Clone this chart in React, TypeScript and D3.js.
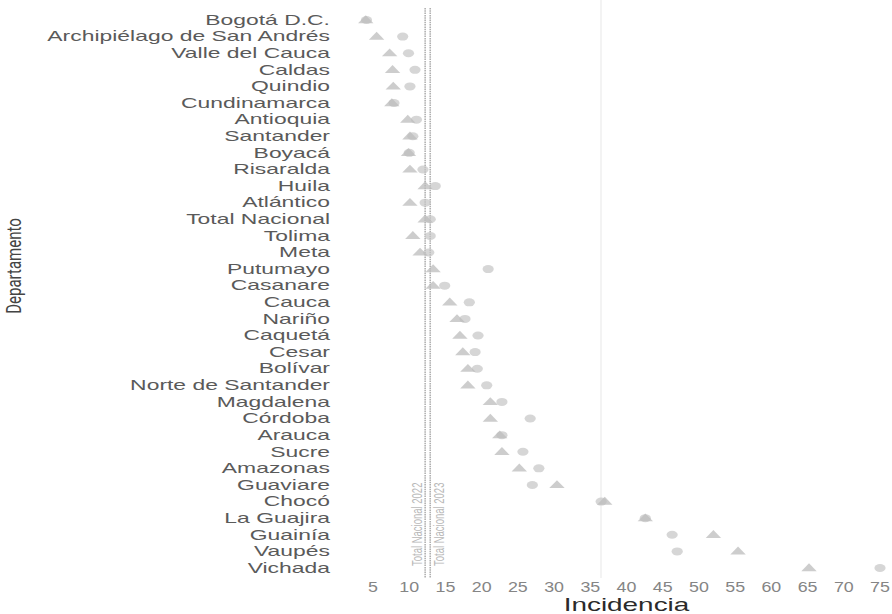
import React from "react";
import * as d3 from "d3";

const departamentos = [
  "Bogotá D.C.", "Archipiélago de San Andrés", "Valle del Cauca", "Caldas", "Quindio",
  "Cundinamarca", "Antioquia", "Santander", "Boyacá", "Risaralda", "Huila", "Atlántico",
  "Total Nacional", "Tolima", "Meta", "Putumayo", "Casanare", "Cauca", "Nariño", "Caquetá",
  "Cesar", "Bolívar", "Norte de Santander", "Magdalena", "Córdoba", "Arauca", "Sucre",
  "Amazonas", "Guaviare", "Chocó", "La Guajira", "Guainía", "Vaupés", "Vichada",
];
const incidencia2022 = [
  4.0, 5.5, 7.3, 7.7, 7.8, 7.6, 9.8, 10.1, 9.9, 10.1, 12.2, 10.1, 12.2, 10.5, 11.5, 13.3, 13.3,
  15.6, 16.6, 17.0, 17.4, 18.1, 18.1, 21.2, 21.2, 22.5, 22.8, 25.2, 30.4, 37.0, 42.6, 52.0, 55.4, 65.2,
];
const incidencia2023 = [
  4.1, 9.1, 9.9, 10.8, 10.1, 7.9, 11.0, 10.5, 10.0, 11.9, 13.6, 12.2, 12.9, 12.9, 12.7, 20.9, 14.9,
  18.3, 17.7, 19.5, 19.1, 19.4, 20.7, 22.8, 26.7, 22.8, 25.7, 27.9, 27.0, 36.5, 42.6, 46.3, 47.0, 75.0,
];
const xTicks = [5, 10, 15, 20, 25, 30, 35, 40, 45, 50, 55, 60, 65, 70, 75];
const totalLabels = ["Total Nacional 2022", "Total Nacional 2023"];

const W = 892;
const H = 614;
const SX = 1.66; // horizontal stretch of the reference

export default function App() {
  const x = d3.scaleLinear().domain([5, 75]).range([373, 880]);
  const y = d3.scalePoint<string>().domain(departamentos).range([20, 568]);
  const tri = d3.symbol(d3.symbolTriangle, 40)() as string;
  const tIdx = departamentos.indexOf("Total Nacional");
  const tot = [incidencia2022[tIdx], incidencia2023[tIdx]];
  const font = "'Liberation Sans', Arial, sans-serif";

  return (
    <svg
      width={W}
      height={H}
      style={{ position: "absolute", left: 0, top: 0, background: "#fff" }}
      fontFamily={font}
    >
      {/* faint fold line */}
      <line x1={601} x2={601} y1={0} y2={578} stroke="#f3f3f3" strokeWidth={2} />

      {/* total nacional reference lines */}
      {tot.map((v, i) => (
        <line
          key={"tl" + i}
          x1={x(v)}
          x2={x(v)}
          y1={8}
          y2={578}
          stroke="#b0b0b0"
          strokeWidth={1.6}
          strokeDasharray="1.5,0.8"
        />
      ))}
      {tot.map((v, i) => (
        <text
          key={"tt" + i}
          transform={`translate(${x(v) + (i === 0 ? -8 : 9)},566) rotate(-90) scale(1,1.5)`}
          fontSize={9.5}
          fill="#b8b8b8"
          dominantBaseline="central"
        >
          {totalLabels[i]}
        </text>
      ))}

      {/* y labels */}
      {departamentos.map((d) => (
        <text
          key={d}
          transform={`translate(330,${y(d)}) scale(${SX},1)`}
          textAnchor="end"
          dominantBaseline="central"
          fontSize={13.8}
          fill="#5a5a5a"
        >
          {d}
        </text>
      ))}

      {/* markers */}
      {departamentos.map((d, i) => (
        <g key={"m" + d}>
          <ellipse
            cx={x(incidencia2023[i])}
            cy={y(d)!}
            rx={5.6}
            ry={4}
            fill="#c4c4c4"
            opacity={0.7}
          />
          <path
            d={tri}
            transform={`translate(${x(incidencia2022[i])},${y(d)! + 0.5}) scale(1.6,0.95)`}
            fill="#bcbcbc"
            opacity={0.75}
          />
        </g>
      ))}

      {/* x ticks */}
      {xTicks.map((t) => (
        <text
          key={"x" + t}
          transform={`translate(${x(t)},587) scale(1.15,1)`}
          textAnchor="middle"
          dominantBaseline="central"
          fontSize={15.5}
          fill="#858585"
        >
          {t}
        </text>
      ))}

      <text
        transform={`translate(${(x(5) + x(75)) / 2},605) scale(1.55,1)`}
        textAnchor="middle"
        dominantBaseline="central"
        fontSize={18}
        fill="#2a2a2a"
      >
        Incidencia
      </text>

      <text
        transform={`translate(14,266) rotate(-90) scale(1,1.35)`}
        textAnchor="middle"
        dominantBaseline="central"
        fontSize={15}
        fill="#444"
        fontFamily="'Liberation Sans Narrow', 'Roboto', sans-serif"
      >
        Departamento
      </text>
    </svg>
  );
}
